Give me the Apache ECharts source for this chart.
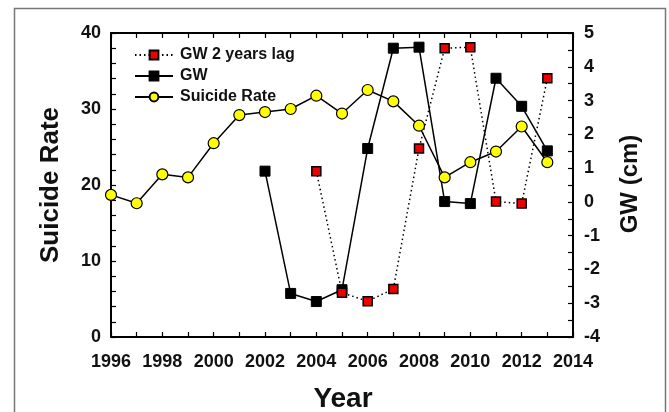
<!DOCTYPE html>
<html>
<head>
<meta charset="utf-8">
<script src="https://cdn.jsdelivr.net/npm/echarts@6/dist/echarts.min.js"></script>
<style>
html,body{margin:0;padding:0;background:#fff;}
#c{width:669px;height:412px;}
</style>
</head>
<body>
<div id="c"></div>
<script>
const years = [1996,1997,1998,1999,2000,2001,2002,2003,2004,2005,2006,2007,2008,2009,2010,2011,2012,2013];
const suicideRate = [18.7,17.6,21.4,21.0,25.5,29.2,29.6,30.0,31.75,29.4,32.5,31.0,27.8,21.0,23.0,24.4,27.7,23.0];
const gwYears = [2002,2003,2004,2005,2006,2007,2008,2009,2010,2011,2012,2013];
const gw = [0.91,-2.71,-2.95,-2.6,1.58,4.55,4.58,0.01,-0.05,3.66,2.83,1.51];
const lagYears = [2004,2005,2006,2007,2008,2009,2010,2011,2012,2013];
const gwLag = [0.91,-2.69,-2.94,-2.58,1.58,4.55,4.58,0.01,-0.05,3.66];
const xTicks = [1996,1998,2000,2002,2004,2006,2008,2010,2012,2014];

const FONT = '"Liberation Sans", Arial, sans-serif';
const pair = (xs, ys) => xs.map((x, i) => [x, ys[i]]);

const chart = echarts.init(document.getElementById('c'));
const axisLbl = {fontFamily: FONT, fontWeight: 'bold', fontSize: 18, color: '#111'};
chart.setOption({
  animation: false,
  backgroundColor: '#fff',
  grid: {left: 111, right: 96, top: 33, bottom: 75},
  legend: {
    left: 134, top: 47, orient: 'vertical', padding: 0,
    itemWidth: 38, itemHeight: 11, itemGap: 5,
    data: ['GW 2 years lag', 'GW', 'Suicide Rate'],
    textStyle: {fontFamily: FONT, fontWeight: 'bold', fontSize: 16, color: '#111', padding: [0,0,0,2]}
  },
  xAxis: [{
    type: 'value', min: 1996, max: 2014, interval: 2,
    axisLine: {onZero: false, lineStyle: {color: '#000', width: 2}},
    axisTick: {inside: true, length: 5, lineStyle: {color: '#000', width: 1.2}},
    minorTick: {show: true, splitNumber: 2, length: 5, lineStyle: {color: '#000', width: 1.2}},
    splitLine: {show: false},
    axisLabel: Object.assign({margin: 16, formatter: v => xTicks.includes(v) ? String(v) : ''}, axisLbl)
  }, {
    type: 'value', position: 'top', min: 1996, max: 2014, interval: 1,
    axisLine: {onZero: false, lineStyle: {color: '#000', width: 2}},
    axisTick: {inside: true, length: 5, lineStyle: {color: '#000', width: 1.2}},
    splitLine: {show: false},
    axisLabel: {show: false}
  }],
  yAxis: [{
    type: 'value', min: 0, max: 40, interval: 10,
    axisLine: {show: true, onZero: false, lineStyle: {color: '#000', width: 2}},
    axisTick: {inside: true, length: 5, lineStyle: {color: '#000', width: 1.2}},
    minorTick: {show: true, splitNumber: 5, length: 5, lineStyle: {color: '#000', width: 1.2}},
    splitLine: {show: false},
    axisLabel: Object.assign({margin: 10}, axisLbl)
  }, {
    type: 'value', min: -4, max: 5, interval: 1, position: 'right',
    axisLine: {show: true, onZero: false, lineStyle: {color: '#000', width: 2}},
    axisTick: {inside: true, length: 5, lineStyle: {color: '#000', width: 1.2}},
    minorTick: {show: true, splitNumber: 2, length: 5, lineStyle: {color: '#000', width: 1.2}},
    splitLine: {show: false},
    axisLabel: Object.assign({margin: 11}, axisLbl)
  }],
  series: [{
    name: 'GW', type: 'line', yAxisIndex: 1, z: 2,
    data: pair(gwYears, gw),
    symbol: 'rect', symbolSize: 10,
    lineStyle: {color: '#000', width: 1.5},
    itemStyle: {color: '#000', borderColor: '#000', borderWidth: 1}
  }, {
    name: 'GW 2 years lag', type: 'line', yAxisIndex: 1, z: 3,
    data: pair(lagYears, gwLag),
    symbol: 'rect', symbolSize: 9,
    lineStyle: {color: '#000', width: 1.5, type: [1.5, 3]},
    itemStyle: {color: '#ee0000', borderColor: '#000', borderWidth: 1.5}
  }, {
    name: 'Suicide Rate', type: 'line', yAxisIndex: 0, z: 4,
    data: pair(years, suicideRate),
    symbol: 'circle', symbolSize: 11,
    lineStyle: {color: '#000', width: 1.5},
    itemStyle: {color: '#ffff00', borderColor: '#000', borderWidth: 1.2}
  }],
  graphic: [
    {type: 'rect', z: -1, shape: {x: 14.5, y: 8.5, width: 651, height: 430}, style: {fill: 'none', stroke: '#777', lineWidth: 1.5}},
    {type: 'text', x: 51, y: 185, rotation: Math.PI / 2,
     style: {text: 'Suicide Rate', fontFamily: FONT, fontWeight: 'bold', fontSize: 26, fill: '#111', textAlign: 'center', textVerticalAlign: 'middle'}},
    {type: 'text', x: 630, y: 184, rotation: Math.PI / 2,
     style: {text: 'GW (cm)', fontFamily: FONT, fontWeight: 'bold', fontSize: 24, fill: '#111', textAlign: 'center', textVerticalAlign: 'middle'}},
    {type: 'text', x: 343, y: 399,
     style: {text: 'Year', fontFamily: FONT, fontWeight: 'bold', fontSize: 28, fill: '#111', textAlign: 'center', textVerticalAlign: 'middle'}}
  ]
});
</script>
</body>
</html>
